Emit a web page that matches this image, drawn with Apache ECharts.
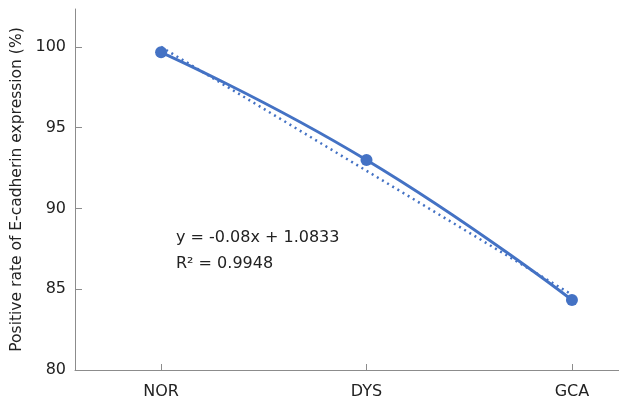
<!DOCTYPE html>
<html><head><meta charset="utf-8">
<script src="https://cdn.jsdelivr.net/npm/echarts@6/dist/echarts.min.js"></script>
<style>html,body{margin:0;padding:0;background:#fff}#c{width:619px;height:407px}</style>
</head><body><div id="c"></div>
<script>
const categories = ["NOR", "DYS", "GCA"];
const values = [99.67, 93.0, 84.33];
const yTicks = [80, 85, 90, 95, 100];
const equationLines = ["y = -0.08x + 1.0833", "R² = 0.9948"];
const yTitle = "Positive rate of E-cadherin expression (%)";

const xs = categories.map((_, i) => i + 1);
// least squares trendline from the data
const n = xs.length;
const mx = xs.reduce((a, b) => a + b, 0) / n;
const my = values.reduce((a, b) => a + b, 0) / n;
let sxy = 0, sxx = 0;
for (let i = 0; i < n; i++) { sxy += (xs[i] - mx) * (values[i] - my); sxx += (xs[i] - mx) ** 2; }
const slope = sxy / sxx, icpt = my - slope * mx;
const trend = [[xs[0], icpt + slope * xs[0]], [xs[n - 1], icpt + slope * xs[n - 1]]];

const FONT = "DejaVu Sans";
const blue = "#4472C4";
const axisColor = "#8c8c8c";
const chart = echarts.init(document.getElementById('c'));
chart.setOption({
  animation: false,
  grid: { left: 75, right: 0, top: 9, bottom: 37 },
  xAxis: {
    type: 'value', min: 0.581, max: 3.229,
    splitLine: { show: false },
    axisLine: { show: true, lineStyle: { color: axisColor, width: 1 } },
    axisTick: { show: true, inside: true, length: 6, customValues: xs, lineStyle: { color: axisColor } },
    axisLabel: { customValues: xs, formatter: v => categories[Math.round(v) - 1] || '', color: '#222', fontFamily: FONT, fontSize: 16, margin: 14 }
  },
  yAxis: {
    type: 'value', min: 80, max: 102.35,
    name: yTitle, nameLocation: 'middle', nameGap: 49,
    nameTextStyle: { color: '#222', fontFamily: FONT, fontSize: 15.5 },
    splitLine: { show: false },
    axisLine: { show: true, lineStyle: { color: axisColor, width: 1 } },
    axisTick: { show: true, inside: true, length: 7, customValues: yTicks, lineStyle: { color: axisColor } },
    axisLabel: { customValues: yTicks, color: '#222', fontFamily: FONT, fontSize: 16, margin: 9 }
  },
  graphic: equationLines.map((t, i) => ({
    type: 'text', left: 176, top: 230 + i * 26,
    style: { text: t, fill: '#222', font: '16px "' + FONT + '"' }
  })),
  series: [
    {
      type: 'line', data: trend, symbol: 'none',
      lineStyle: { color: blue, width: 2.5, type: [2, 4] }, z: 2
    },
    {
      type: 'line', data: xs.map((x, i) => [x, values[i]]), smooth: true,
      symbol: 'circle', symbolSize: 12,
      itemStyle: { color: blue }, lineStyle: { color: blue, width: 3 }, z: 3
    }
  ]
});
</script></body></html>
